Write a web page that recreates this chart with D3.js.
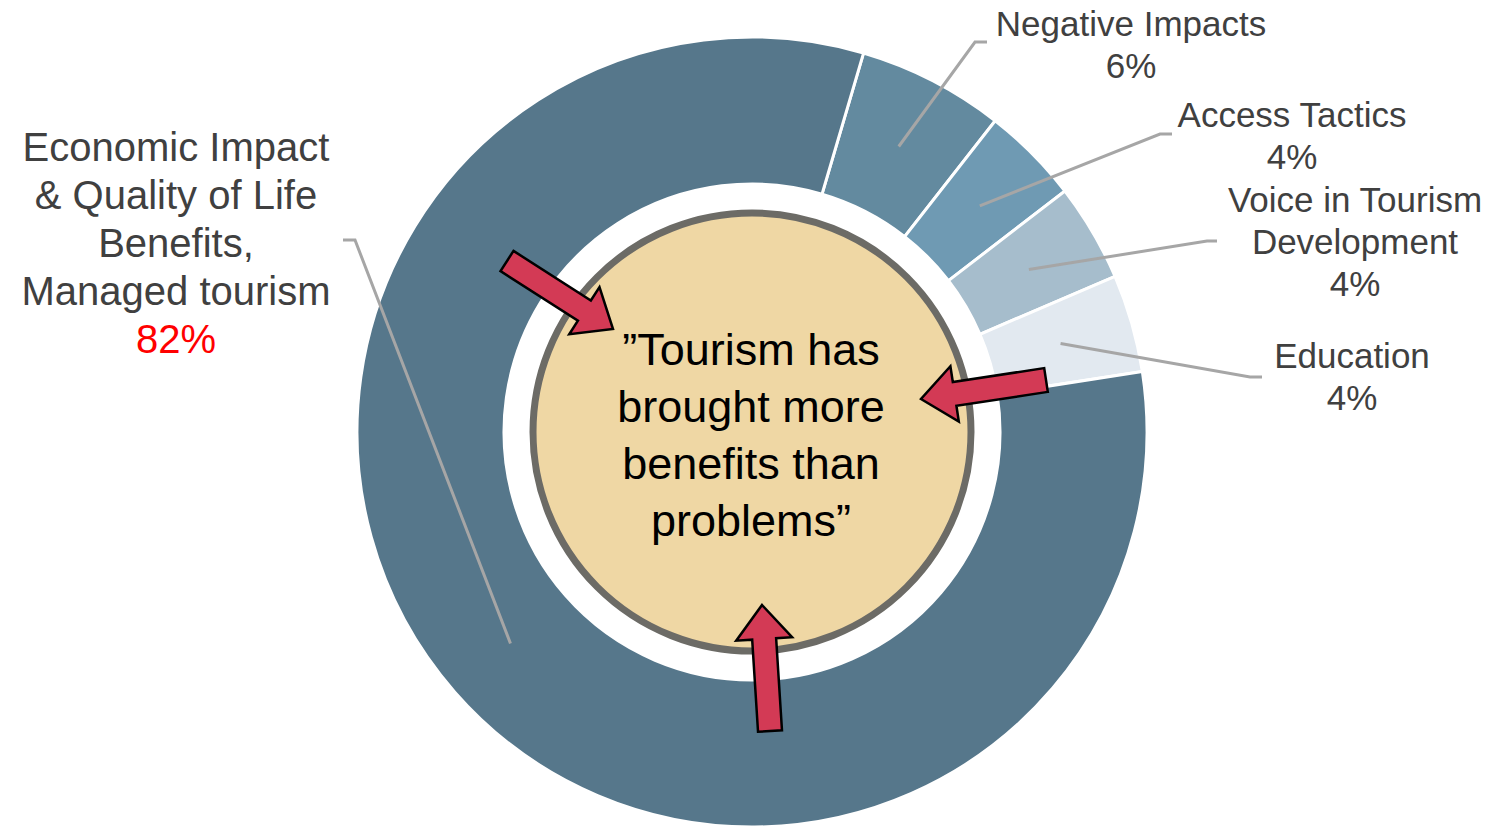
<!DOCTYPE html>
<html>
<head>
<meta charset="utf-8">
<title>Tourism benefits donut</title>
<style>
  html, body { margin: 0; padding: 0; background: #fff; }
  svg { display: block; font-family: "Liberation Sans", Arial, sans-serif; }
</style>
</head>
<body>
<div id="chart"></div>
<script src="https://cdn.jsdelivr.net/npm/d3@7"></script>
<script>
(function(d3) {
  'use strict';

  // data
  var categories = ['Negative Impacts', 'Access Tactics', 'Voice in Tourism Development',
                    'Education', 'Economic Impact & Quality of Life Benefits, Managed tourism'];
  var values = [6, 4, 4, 4, 82];
  var labelLines = [
    ['Negative Impacts'],
    ['Access Tactics'],
    ['Voice in Tourism', 'Development'],
    ['Education'],
    ['Economic Impact', '& Quality of Life', 'Benefits,', 'Managed tourism']
  ];
  var colors = ['#638a9f', '#6f9ab3', '#a6bdcc', '#e2e9f0', '#56778b'];
  var quote = ['\u201DTourism has', 'brought more', 'benefits than', 'problems\u201D'];

  var width = 1489, height = 827;
  var cx = 752, cy = 432;
  var outerR = 395, innerR = 248;

  // label layout: elbow point, end of leader, text centre x, first baseline
  var labelPos = [
    { elbow: [975, 42],  end: [987, 42],   tx: 1131, ty: 36,  size: 35, gap: 42 },
    { elbow: [1160, 134], end: [1172, 134], tx: 1292, ty: 127, size: 35, gap: 42 },
    { elbow: [1207, 241], end: [1217, 241], tx: 1355, ty: 212, size: 35, gap: 42 },
    { elbow: [1250, 377], end: [1262, 377], tx: 1352, ty: 368, size: 35, gap: 42 },
    { elbow: [355, 240],  end: [343, 240],  tx: 176,  ty: 161, size: 40, gap: 48 }
  ];

  var svg = d3.select('#chart').append('svg')
    .attr('width', width)
    .attr('height', height);

  var g = svg.append('g')
    .attr('transform', 'translate(' + cx + ',' + cy + ')');

  var a0 = 16.4 * Math.PI / 180;
  var pie = d3.pie().sort(null).startAngle(a0).endAngle(a0 + 2 * Math.PI);
  var arcs = pie(values);

  var arc = d3.arc().innerRadius(innerR).outerRadius(outerR);
  var leaderArc = d3.arc().innerRadius(321).outerRadius(321);

  g.selectAll('path.slice')
    .data(arcs)
    .enter().append('path')
    .attr('class', 'slice')
    .attr('d', arc)
    .attr('fill', function(d, i) { return colors[i]; })
    .attr('stroke', '#fff')
    .attr('stroke-width', 3);

  // centre circle
  g.append('circle')
    .attr('r', 219)
    .attr('fill', '#efd7a4')
    .attr('stroke', '#6c6b66')
    .attr('stroke-width', 7);

  g.append('text')
    .attr('text-anchor', 'middle')
    .attr('font-size', 45)
    .attr('fill', '#000')
    .selectAll('tspan')
    .data(quote)
    .enter().append('tspan')
    .attr('x', -1)
    .attr('y', function(d, i) { return -67 + i * 57; })
    .text(function(d) { return d; });

  // leader lines + labels
  arcs.forEach(function(d, i) {
    var p = leaderArc.centroid(d);
    var lp = labelPos[i];
    svg.append('polyline')
      .attr('points', [[p[0] + cx, p[1] + cy], lp.elbow, lp.end].map(function(q) { return q.join(','); }).join(' '))
      .attr('fill', 'none')
      .attr('stroke', '#a6a6a6')
      .attr('stroke-width', 3);

    var t = svg.append('text')
      .attr('text-anchor', 'middle')
      .attr('font-size', lp.size)
      .attr('fill', '#404040');
    var lines = labelLines[i].concat([values[i] + '%']);
    lines.forEach(function(s, j) {
      t.append('tspan')
        .attr('x', lp.tx)
        .attr('y', lp.ty + j * lp.gap)
        .attr('fill', (i === 4 && j === lines.length - 1) ? '#ff0000' : null)
        .text(s);
    });
  });

  // arrows pointing at the centre text
  var arrows = [
    { from: [507, 261], to: [613, 329] },
    { from: [1046, 380], to: [921, 399] },
    { from: [770, 731], to: [762, 605] }
  ];
  var shaftW = 24, headW = 56, headL = 34;
  arrows.forEach(function(a) {
    var dx = a.to[0] - a.from[0], dy = a.to[1] - a.from[1];
    var len = Math.sqrt(dx * dx + dy * dy);
    var ang = Math.atan2(dy, dx) * 180 / Math.PI;
    var pts = [
      [0, -shaftW / 2], [len - headL, -shaftW / 2], [len - headL, -headW / 2],
      [len, 0], [len - headL, headW / 2], [len - headL, shaftW / 2], [0, shaftW / 2]
    ];
    svg.append('path')
      .attr('d', d3.line()(pts) + 'Z')
      .attr('transform', 'translate(' + a.from[0] + ',' + a.from[1] + ') rotate(' + ang + ')')
      .attr('fill', '#d33a55')
      .attr('stroke', '#000')
      .attr('stroke-width', 2.5)
      .attr('stroke-linejoin', 'miter');
  });

})(window.d3);
</script>
</body>
</html>
